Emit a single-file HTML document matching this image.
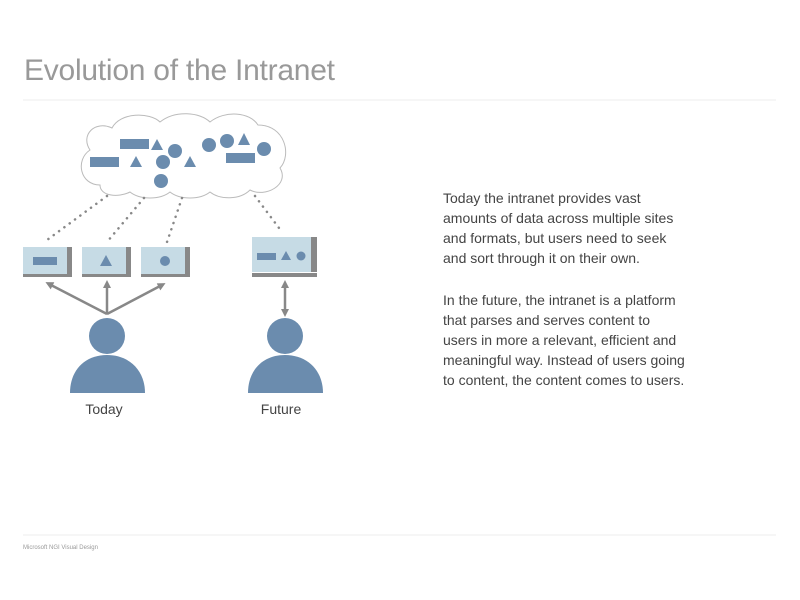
<!DOCTYPE html>
<html><head><style>
body{margin:0;width:800px;height:600px;background:#fff;overflow:hidden;font-family:"Liberation Sans",sans-serif;}
</style></head><body>
<svg width="800" height="600" xmlns="http://www.w3.org/2000/svg" style="position:absolute;left:0;top:0">
<text x="24" y="80" font-size="30" fill="#999" font-family="Liberation Sans" textLength="311">Evolution of the Intranet</text>
<line x1="23" y1="100" x2="776" y2="100" stroke="#eee" stroke-width="1"/>
<path d="M100,185 C80,185 75,160 90,150 C80,135 95,120 112,128 C120,112 150,112 160,122 C175,110 200,112 210,122 C225,110 250,112 258,125 C285,125 292,155 280,168 C290,185 265,198 250,190 C240,200 220,200 210,192 C200,200 180,200 170,192 C160,200 140,200 130,192 C118,198 100,196 100,185 Z" fill="#fff" stroke="#bbb" stroke-width="1"/>
<g fill="#6b8cae">
<rect x="120" y="139" width="29" height="10"/>
<polygon points="157,139 163,150 151,150"/>
<circle cx="175" cy="151" r="7"/>
<rect x="90" y="157" width="29" height="10"/>
<polygon points="136,156 142,167 130,167"/>
<circle cx="163" cy="162" r="7"/>
<polygon points="190,156 196,167 184,167"/>
<circle cx="161" cy="181" r="7"/>
<circle cx="209" cy="145" r="7"/>
<circle cx="227" cy="141" r="7"/>
<polygon points="244,133 250,145 238,145"/>
<rect x="226" y="153" width="29" height="10"/>
<circle cx="264" cy="149" r="7"/>
</g>
<g stroke="#888" stroke-width="2.5" stroke-dasharray="0.1 6.5" stroke-linecap="round">
<line x1="107" y1="196" x2="47" y2="240"/>
<line x1="144" y1="198" x2="107" y2="242"/>
<line x1="182" y1="198" x2="167" y2="242"/>
<line x1="255" y1="196" x2="279" y2="228"/>
</g>
<g>
<rect x="23" y="247" width="49" height="27" fill="#c6dbe5"/><rect x="67" y="247" width="5" height="27" fill="#888"/><rect x="23" y="274" width="49" height="3" fill="#888"/>
<rect x="33" y="257" width="24" height="8" fill="#6b8cae"/>
<rect x="82" y="247" width="49" height="27" fill="#c6dbe5"/><rect x="126" y="247" width="5" height="27" fill="#888"/><rect x="82" y="274" width="49" height="3" fill="#888"/>
<polygon points="106,255 112,266 100,266" fill="#6b8cae"/>
<rect x="141" y="247" width="49" height="27" fill="#c6dbe5"/><rect x="185" y="247" width="5" height="27" fill="#888"/><rect x="141" y="274" width="49" height="3" fill="#888"/>
<circle cx="165" cy="261" r="5" fill="#6b8cae"/>
<rect x="252" y="237" width="65" height="35" fill="#c6dbe5"/><rect x="311" y="237" width="6" height="35" fill="#888"/><rect x="252" y="273" width="65" height="4" fill="#888"/>
<rect x="257" y="253" width="19" height="7" fill="#6b8cae"/>
<polygon points="286,251 291,260 281,260" fill="#6b8cae"/>
<circle cx="301" cy="256" r="4.5" fill="#6b8cae"/>
</g>
<defs><marker id="a" markerWidth="8" markerHeight="8" refX="4" refY="4" orient="auto" markerUnits="userSpaceOnUse"><path d="M0,0 L8,4 L0,8 Z" fill="#888"/></marker></defs>
<g stroke="#888" stroke-width="2.5" fill="none">
<line x1="107" y1="314" x2="49" y2="284" marker-end="url(#a)"/>
<line x1="107" y1="314" x2="107" y2="284" marker-end="url(#a)"/>
<line x1="107" y1="314" x2="162" y2="285" marker-end="url(#a)"/>
<line x1="285" y1="298" x2="285" y2="284" marker-end="url(#a)"/>
<line x1="285" y1="298" x2="285" y2="313" marker-end="url(#a)"/>
</g>
<g fill="#6b8cae">
<circle cx="107" cy="336" r="18"/>
<path d="M70,393 C70,370 85,355 107,355 C129,355 145,370 145,393 Z"/>
<circle cx="285" cy="336" r="18"/>
<path d="M248,393 C248,370 263,355 285,355 C307,355 323,370 323,393 Z"/>
</g>
<text x="104" y="414" font-size="14" fill="#444" text-anchor="middle">Today</text>
<text x="281" y="414" font-size="14" fill="#444" text-anchor="middle">Future</text>
<g font-size="14" fill="#444">
<text x="443" y="203">Today the intranet provides vast</text>
<text x="443" y="223">amounts of data across multiple sites</text>
<text x="443" y="243">and formats, but users need to seek</text>
<text x="443" y="263">and sort through it on their own.</text>
<text x="443" y="305">In the future, the intranet is a platform</text>
<text x="443" y="325">that parses and serves content to</text>
<text x="443" y="345">users in more a relevant, efficient and</text>
<text x="443" y="365">meaningful way. Instead of users going</text>
<text x="443" y="385">to content, the content comes to users.</text>
</g>
<line x1="23" y1="535" x2="776" y2="535" stroke="#eee" stroke-width="1"/>
<text x="23" y="549" font-size="6" fill="#999">Microsoft  NGI Visual Design</text>
</svg>
</body></html>
